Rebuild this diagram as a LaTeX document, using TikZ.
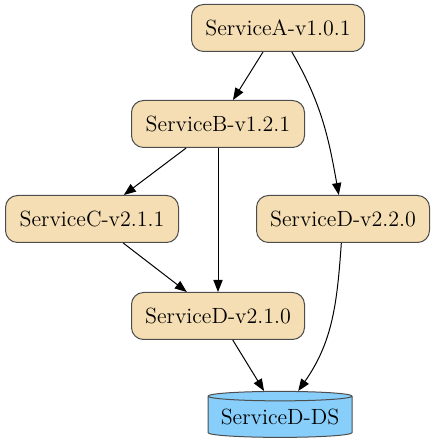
\documentclass[tikz,border=0pt]{standalone}
\usepackage{tikz}
\usetikzlibrary{arrows.meta,shapes.geometric}

\definecolor{svcfill}{HTML}{F5DEB3}
\definecolor{dsfill}{HTML}{87CEFA}
\definecolor{edgegray}{HTML}{4D4D4D}

\begin{document}
\begin{tikzpicture}[x=1pt,y=1pt]
        \tikzstyle{every node} = [font=\fontsize{11}{13}\selectfont]
        \tikzstyle{svc} = [rectangle, rounded corners=6pt, draw=edgegray, line width=0.5pt,
            fill=svcfill, minimum width=86.5pt, minimum height=23.5pt, inner sep=0pt]
        \tikzstyle{store} = [cylinder, shape border rotate=90, aspect=0.08, draw=edgegray,
            line width=0.5pt, fill=dsfill, minimum width=72pt, minimum height=23pt, inner sep=0pt]
        \tikzstyle{dep} = [-{Triangle[length=6pt,width=4.6pt]}, line width=0.5pt]
        \useasboundingbox (0,0) rectangle (218,221.5);
        \node[svc] (a) at (139,207.5) {ServiceA-v1.0.1};
        \node[svc] (b) at (109,159.5) {ServiceB-v1.2.1};
        \node[svc] (c) at (46,112) {ServiceC-v2.1.1};
        \node[svc] (d2) at (171.5,112) {ServiceD-v2.2.0};
        \node[svc] (d1) at (109,63.5) {ServiceD-v2.1.0};
        \node[store] (ds) at (140,13) {ServiceD-DS};
        \foreach \from/\to in {a/b, b/c, b/d1, c/d1, d1/ds}
            \draw[dep] (\from) -- (\to);
        \draw[dep] (a) to[out=-60, in=100] (d2);
        \draw[dep] (d2) to[out=-94, in=55] (ds);
    \end{tikzpicture}
\end{document}
